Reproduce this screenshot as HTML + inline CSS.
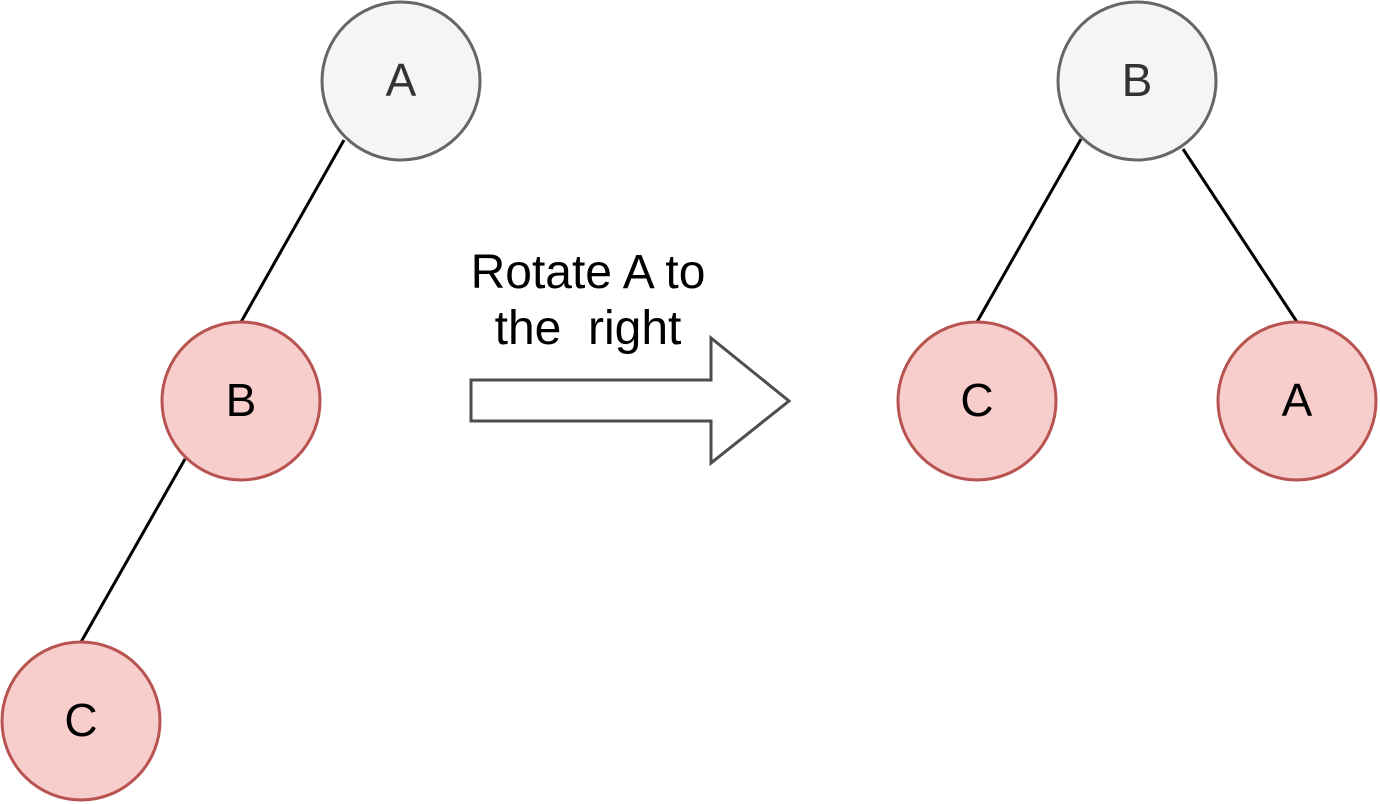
<!DOCTYPE html>
<html>
<head>
<meta charset="utf-8">
<style>
  html,body{margin:0;padding:0;background:#fff;}
  svg{display:block;}
  text{font-family:"Liberation Sans",sans-serif;}
</style>
</head>
<body>
<svg width="1380" height="804" viewBox="0 0 1380 804">
  <line x1="344" y1="140" x2="241" y2="322" stroke="#000" stroke-width="3"/>
  <line x1="185" y1="459" x2="81" y2="642" stroke="#000" stroke-width="3"/>
  <line x1="1081" y1="139" x2="977" y2="322" stroke="#000" stroke-width="3"/>
  <line x1="1183" y1="149" x2="1297" y2="322" stroke="#000" stroke-width="3"/>

  <g>
    <circle cx="401" cy="81" r="79" fill="#f5f5f5" stroke="#666" stroke-width="3"/>
    <text x="401" y="96" font-size="46" text-anchor="middle" fill="#333">A</text>
  </g>
  <g>
    <circle cx="241" cy="401" r="79" fill="#f8cecc" stroke="#b85450" stroke-width="3"/>
    <text x="241" y="416" font-size="46" text-anchor="middle" fill="#000">B</text>
  </g>
  <g>
    <circle cx="81" cy="721" r="79" fill="#f8cecc" stroke="#b85450" stroke-width="3"/>
    <text x="81" y="736" font-size="46" text-anchor="middle" fill="#000">C</text>
  </g>

  <polygon points="471,380 711,380 711,338 789,401 711,463 711,421 471,421" fill="#fff" stroke="#4d4d4d" stroke-width="3"/>
  <text x="588" y="288" font-size="48" text-anchor="middle" fill="#000">Rotate A to</text>
  <text x="588" y="344" font-size="48" text-anchor="middle" fill="#000" xml:space="preserve">the  right</text>

  <g>
    <circle cx="1137" cy="81" r="79" fill="#f5f5f5" stroke="#666" stroke-width="3"/>
    <text x="1137" y="96" font-size="46" text-anchor="middle" fill="#333">B</text>
  </g>
  <g>
    <circle cx="977" cy="401" r="79" fill="#f8cecc" stroke="#b85450" stroke-width="3"/>
    <text x="977" y="416" font-size="46" text-anchor="middle" fill="#000">C</text>
  </g>
  <g>
    <circle cx="1297" cy="401" r="79" fill="#f8cecc" stroke="#b85450" stroke-width="3"/>
    <text x="1297" y="416" font-size="46" text-anchor="middle" fill="#000">A</text>
  </g>
</svg>
</body>
</html>
